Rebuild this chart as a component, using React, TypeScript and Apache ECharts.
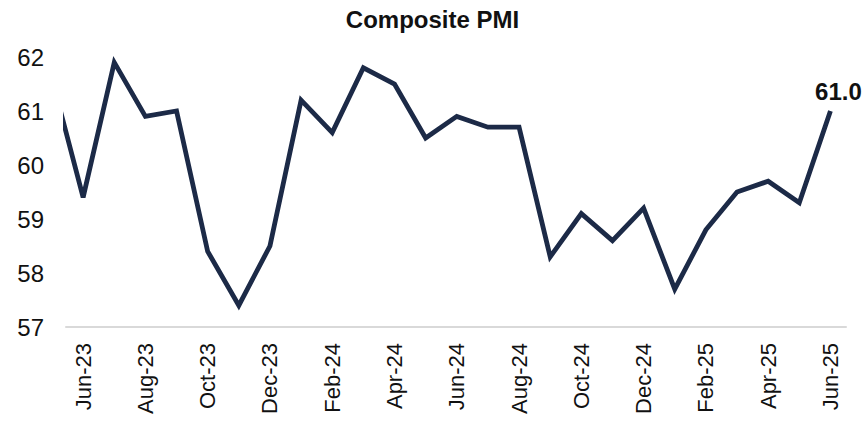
import React, { useEffect, useRef } from "react";
import * as echarts from "echarts";

const months = [
  "May-23", "Jun-23", "Jul-23", "Aug-23", "Sep-23", "Oct-23", "Nov-23", "Dec-23",
  "Jan-24", "Feb-24", "Mar-24", "Apr-24", "May-24", "Jun-24", "Jul-24", "Aug-24",
  "Sep-24", "Oct-24", "Nov-24", "Dec-24", "Jan-25", "Feb-25", "Mar-25", "Apr-25",
  "May-25", "Jun-25",
];
const pmi = [
  61.6, 59.4, 61.9, 60.9, 61.0, 58.4, 57.4, 58.5, 61.2, 60.6, 61.8, 61.5, 60.5,
  60.9, 60.7, 60.7, 58.3, 59.1, 58.6, 59.2, 57.7, 58.8, 59.5, 59.7, 59.3, 61.0,
];
const labelIndices = [1, 3, 5, 7, 9, 11, 13, 15, 17, 19, 21, 23, 25];
const yTicks = [57, 58, 59, 60, 61, 62];

export default function App() {
  const ref = useRef<HTMLDivElement>(null);
  useEffect(() => {
    if (!ref.current) return;
    const chart = echarts.init(ref.current, null, { renderer: "svg" });
    chart.setOption({
      animation: false,
      title: {
        text: "Composite PMI",
        left: "center",
        top: 2,
        textStyle: { fontFamily: "Liberation Sans", fontWeight: "bold", fontSize: 24, color: "#111" },
      },
      grid: { left: 66, right: 19, top: 57, bottom: 98, containLabel: false },
      xAxis: {
        type: "value",
        min: 0.45,
        max: 25.5,
        splitLine: { show: false },
        axisLine: { show: true, onZero: false, lineStyle: { color: "#d9d9d9", width: 2 } },
        axisTick: { show: false },
        axisLabel: {
          customValues: labelIndices,
          rotate: 90,
          margin: 16,
          fontSize: 22,
          fontFamily: "Liberation Sans",
          color: "#111",
          formatter: (v: number) => months[Math.round(v)] ?? "",
        },
      },
      yAxis: {
        type: "value",
        min: 57,
        max: 62,
        interval: 1,
        splitLine: { show: false },
        axisLine: { show: false },
        axisTick: { show: false },
        axisLabel: {
          customValues: yTicks,
          margin: 22,
          fontSize: 24,
          fontFamily: "Liberation Sans",
          color: "#111",
        },
      },
      series: [
        {
          type: "line",
          data: pmi.map((v, i) => [i, v]),
          showSymbol: false,
          symbol: "none",
          clip: true,
          lineStyle: { color: "#1c2a47", width: 4.8, join: "miter" },
          itemStyle: { color: "#1c2a47" },
          endLabel: {
            show: true,
            distance: 8,
            align: "center",
            verticalAlign: "bottom",
            padding: [0, 0, 8, 0],
            formatter: (p: any) => Number(p.value[1]).toFixed(1),
            fontWeight: "bold",
            fontSize: 24,
            fontFamily: "Liberation Sans",
            color: "#111",
          },
        },
      ],
    });
    return () => chart.dispose();
  }, []);
  return <div ref={ref} style={{ width: 865, height: 425, position: "absolute", left: 0, top: 0 }} />;
}
